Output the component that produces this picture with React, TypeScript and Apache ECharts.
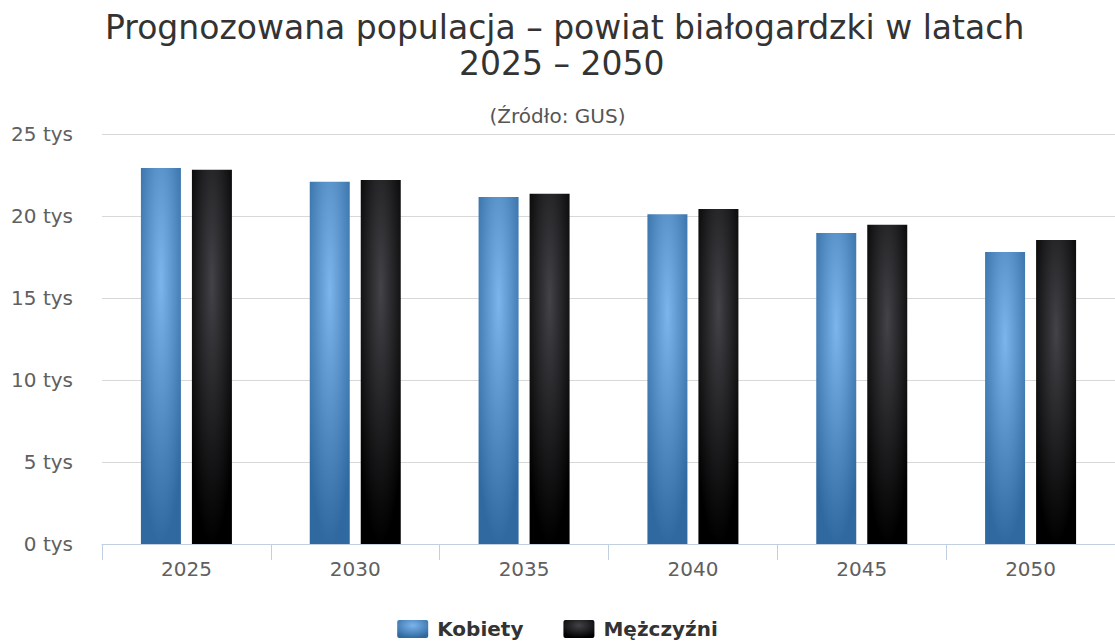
import React, { useEffect, useRef } from "react";
import * as echarts from "echarts";

const years = ["2025", "2030", "2035", "2040", "2045", "2050"];
const kobiety = [22930, 22090, 21160, 20100, 18970, 17810];
const mezczyzni = [22820, 22200, 21360, 20430, 19470, 18540];
const seriesNames = ["Kobiety", "Mężczyźni"];
const titleLines = ["Prognozowana populacja – powiat białogardzki w latach", "2025 – 2050"];
const subtitle = "(Źródło: GUS)";

const FONT = "DejaVu Sans";

function grad(c0: string, c1: string) {
  return new echarts.graphic.RadialGradient(0.5, 0.3, 0.7, [
    { offset: 0, color: c0 },
    { offset: 1, color: c1 },
  ]);
}

const titleStyle = {
  fontFamily: FONT,
  fontSize: 33,
  fontWeight: "normal",
  color: "#333333",
  lineHeight: 36,
};

const legendIcon =
  "path://M2,0 L29,0 Q31,0 31,2 L31,16 Q31,18 29,18 L2,18 Q0,18 0,16 L0,2 Q0,0 2,0 Z";

export default function App() {
  const ref = useRef<HTMLDivElement>(null);
  useEffect(() => {
    if (!ref.current) return;
    const chart = echarts.init(ref.current, undefined, { renderer: "svg" });
    chart.setOption({
      animation: false,
      backgroundColor: "#ffffff",
      textStyle: { fontFamily: FONT },
      title: [
        { text: titleLines[0], left: 105, top: 9, padding: 0, textStyle: titleStyle },
        { text: titleLines[1], left: 459, top: 45, padding: 0, textStyle: titleStyle },
        {
          text: subtitle,
          left: "center",
          top: 99,
          textStyle: {
            fontFamily: FONT,
            fontSize: 20,
            fontWeight: "normal",
            color: "#555555",
            lineHeight: 24,
          },
        },
      ],
      legend: {
        data: seriesNames,
        left: "center",
        top: 614,
        itemWidth: 31,
        itemHeight: 18,
        itemGap: 40,
        icon: legendIcon,
        textStyle: {
          fontFamily: FONT,
          fontSize: 20,
          fontWeight: "bold",
          color: "#333333",
          padding: [0, 0, 0, 4],
        },
      },
      grid: { left: 102, right: 0, top: 134, bottom: 99, containLabel: false },
      xAxis: {
        type: "category",
        data: years,
        axisLine: { show: true, lineStyle: { color: "#c0d0e0", width: 1 } },
        axisTick: {
          show: true,
          length: 16,
          alignWithLabel: false,
          lineStyle: { color: "#c0d0e0", width: 1 },
        },
        axisLabel: {
          margin: 15,
          fontFamily: FONT,
          fontSize: 20,
          color: "#606060",
        },
      },
      yAxis: {
        type: "value",
        min: 0,
        max: 25000,
        interval: 5000,
        axisLine: { show: false },
        axisTick: { show: false },
        splitLine: { lineStyle: { color: "#d8d8d8", width: 1 } },
        axisLabel: {
          margin: 29,
          fontFamily: FONT,
          fontSize: 20,
          color: "#606060",
          padding: [0, 0, 6, 0],
          formatter: (v: number) => `${v / 1000} tys`,
        },
      },
      series: [
        {
          name: seriesNames[0],
          type: "bar",
          data: kobiety,
          barWidth: 40,
          barGap: "27.5%",
          itemStyle: { color: grad("#7cb5ec", "#3069a0") },
        },
        {
          name: seriesNames[1],
          type: "bar",
          data: mezczyzni,
          barWidth: 40,
          itemStyle: { color: grad("#434348", "#000000") },
        },
      ],
    });
    return () => chart.dispose();
  }, []);
  return (
    <div
      ref={ref}
      style={{ position: "absolute", left: 0, top: 0, width: 1115, height: 643 }}
    />
  );
}
